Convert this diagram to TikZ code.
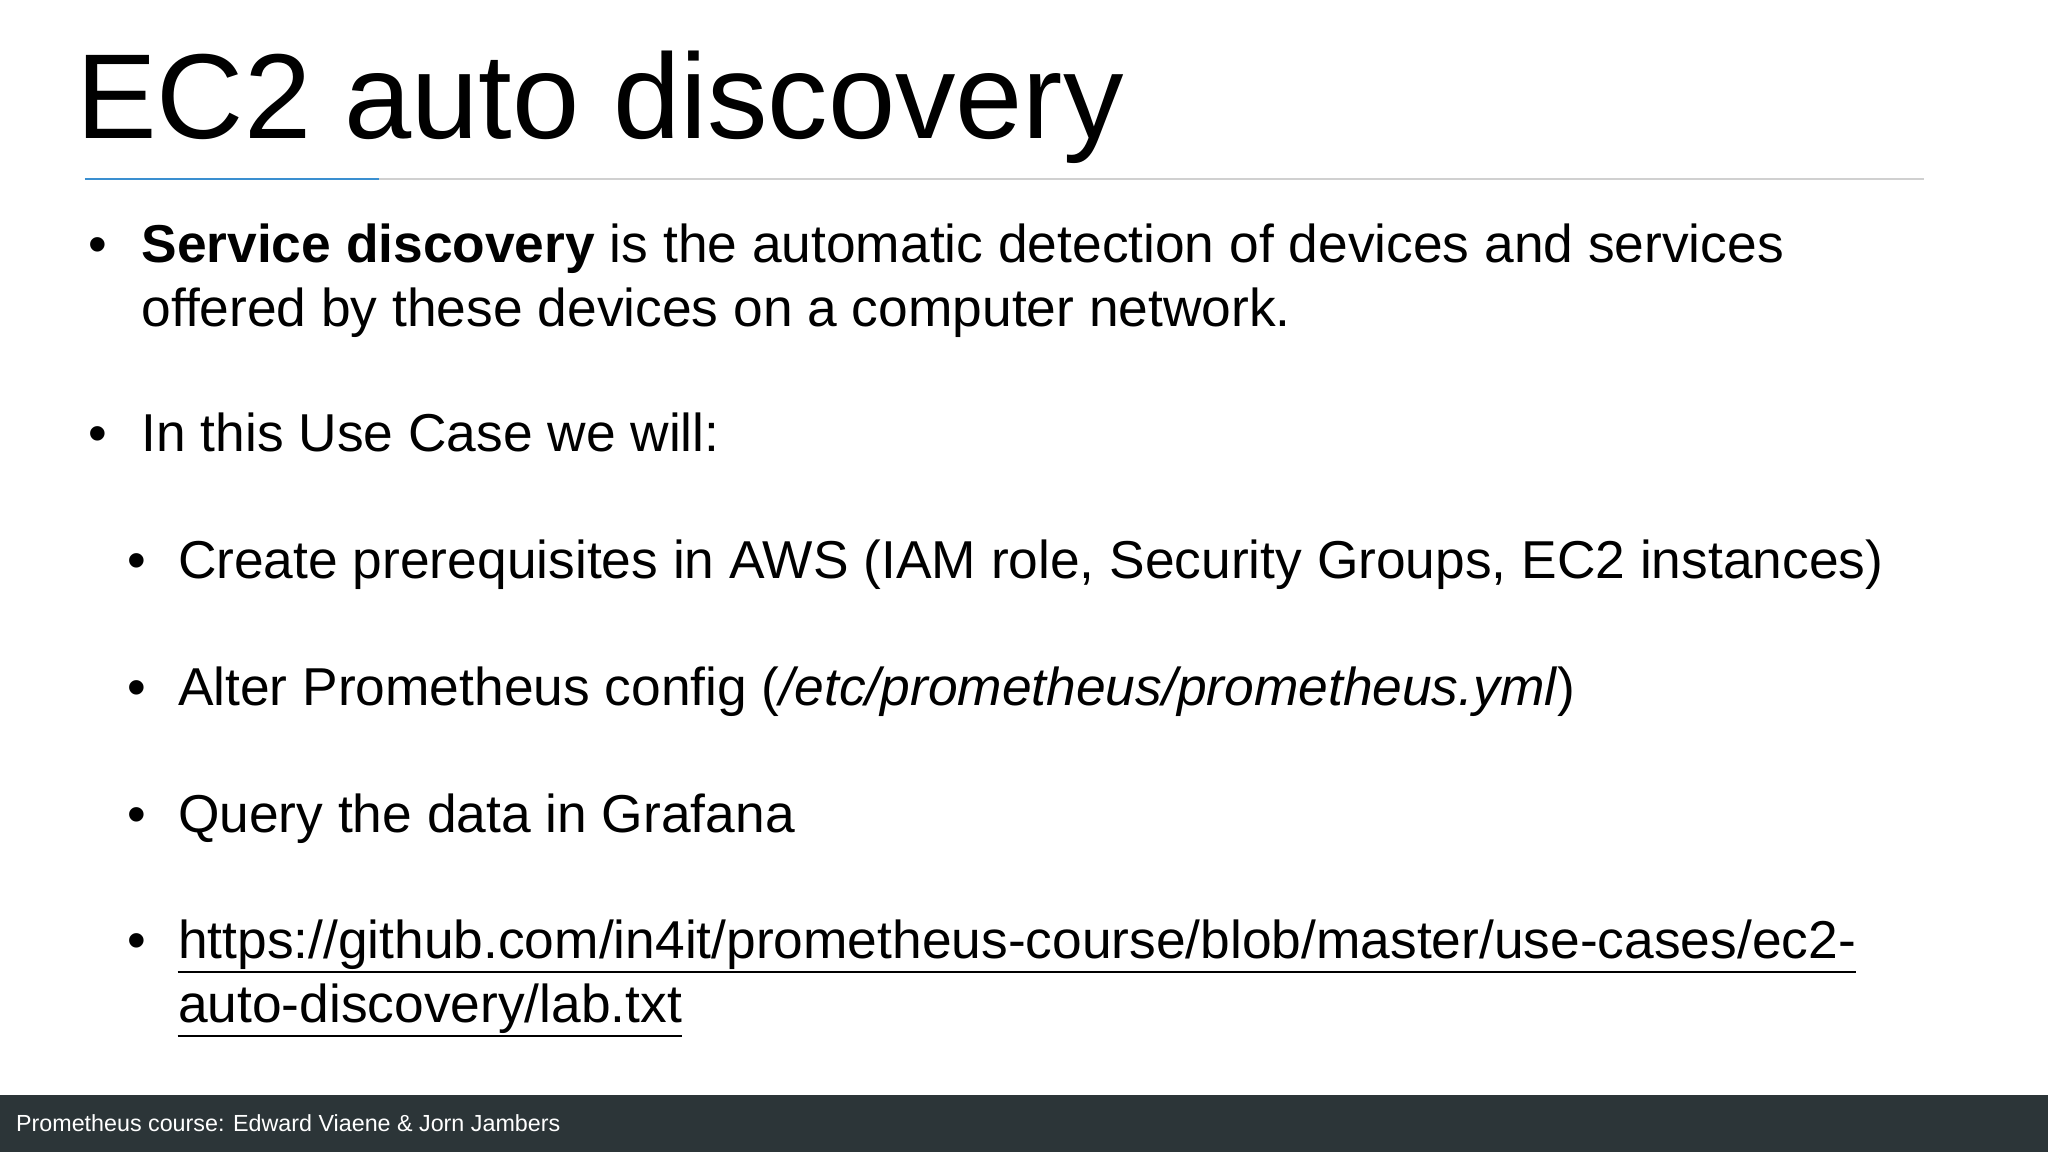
\documentclass[tikz,border=0pt]{standalone}
\usepackage{fontspec}
\setmainfont{Liberation Sans}
\definecolor{barc}{HTML}{2C3538}
\definecolor{rulec}{HTML}{D0D0D0}
\definecolor{bluec}{HTML}{3A8FD0}
\begin{document}
\begin{tikzpicture}[x=0.6pt,y=0.6pt,
  txt/.style={anchor=base west,inner sep=0,font=\fontsize{24.5}{28}\selectfont},
  bul/.style={anchor=base,inner sep=0,font=\fontsize{24.5}{28}\selectfont},
  ul/.style={line width=1pt}]
\useasboundingbox (0,0) rectangle (1568,882);
\fill[white] (0,0) rectangle (1568,882);
\node[anchor=base west,inner sep=0,font=\fontsize{55.5}{60}\selectfont] (title) at (58,776) {EC2 auto discovery};
\draw[rulec,line width=1pt] (65,745) coordinate (r1) -- (1473,745) coordinate (r2);
\draw[bluec,line width=1pt] (65,745) -- (290,745);
\node[bul] (b1) at (75,681) {•};
\node[txt] (t1) at (108,681) {\textbf{Service discovery} is the automatic detection of devices and services};
\node[txt] (t2) at (108,632) {offered by these devices on a computer network.};
\node[bul] (b2) at (75,536) {•};
\node[txt] (t3) at (108,536) {In this Use Case we will:};
\node[bul] (b3) at (105,439) {•};
\node[txt] (t4) at (136,439) {Create prerequisites in AWS (IAM role, Security Groups, EC2 instances)};
\node[bul] (b4) at (105,342) {•};
\node[txt] (t5) at (136,342) {Alter Prometheus config (\textit{/etc/prometheus/prometheus.yml})};
\node[bul] (b5) at (105,245) {•};
\node[txt] (t6) at (136,245) {Query the data in Grafana};
\node[bul] (b6) at (105,148) {•};
\node[txt] (t7) at (136,148) {https://github.com/in4it/prometheus-course/blob/master/use-cases/ec2-};
\node[txt] (t8) at (136,99) {auto-discovery/lab.txt};
\draw[ul] ([yshift=-6]t7.base west) -- ([yshift=-6]t7.base east);
\draw[ul] ([yshift=-6]t8.base west) -- ([yshift=-6]t8.base east);
\fill[barc] (0,0) rectangle (1568,44);
\node[anchor=base west,inner sep=0,text=white,font=\fontsize{10.7}{12}\selectfont] (foot) at (12,16) {Prometheus course: Edward Viaene \& Jorn Jambers};
\end{tikzpicture}
\end{document}
